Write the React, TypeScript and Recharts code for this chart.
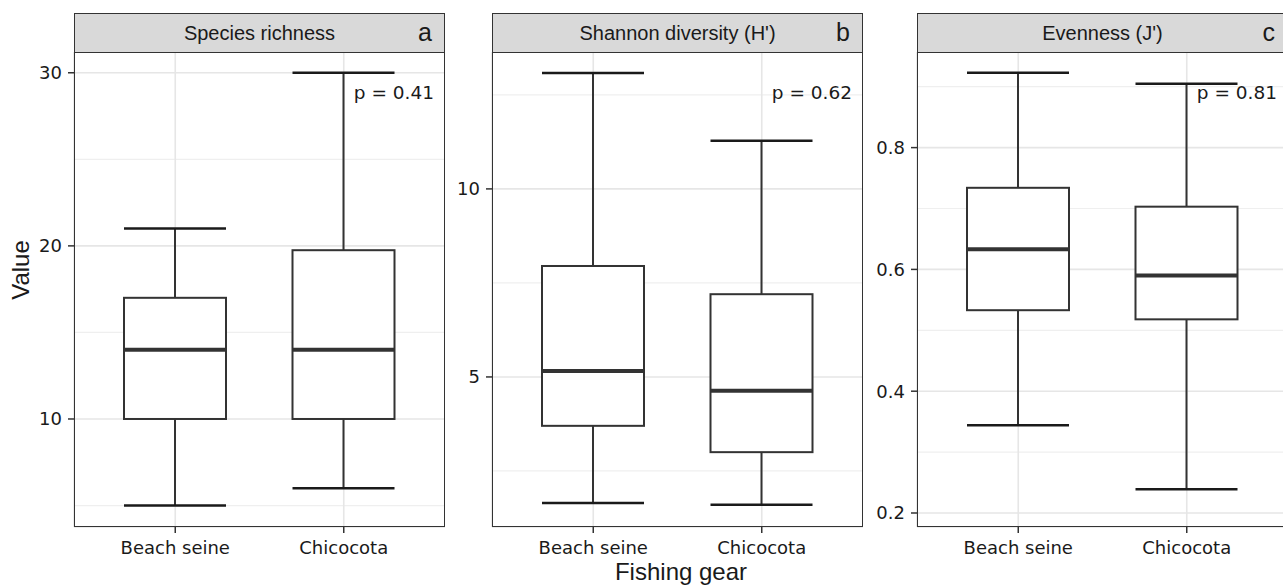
import React from "react";
import { ComposedChart, Bar, XAxis, YAxis, CartesianGrid } from "recharts";

// --- DATA ---
const GEAR = ["Beach seine", "Chicocota"];

const RICHNESS_MIN = [5, 6];
const RICHNESS_Q1 = [10, 10];
const RICHNESS_MEDIAN = [14, 14];
const RICHNESS_Q3 = [17, 19.75];
const RICHNESS_MAX = [21, 30];
const RICHNESS_TICKS = [10, 20, 30];
const RICHNESS_MINOR = [5, 15, 25];

const SHANNON_MIN = [1.65, 1.6];
const SHANNON_Q1 = [3.7, 3.0];
const SHANNON_MEDIAN = [5.16, 4.63];
const SHANNON_Q3 = [7.95, 7.2];
const SHANNON_MAX = [13.08, 11.28];
const SHANNON_TICKS = [5, 10];
const SHANNON_MINOR = [2.5, 7.5, 12.5];

const EVENNESS_MIN = [0.344, 0.239];
const EVENNESS_Q1 = [0.533, 0.518];
const EVENNESS_MEDIAN = [0.633, 0.59];
const EVENNESS_Q3 = [0.734, 0.703];
const EVENNESS_MAX = [0.923, 0.905];
const EVENNESS_TICKS = [0.2, 0.4, 0.6, 0.8];
const EVENNESS_MINOR = [0.3, 0.5, 0.7, 0.9];

const P_VALUES = ["p = 0.41", "p = 0.62", "p = 0.81"];

type Row = { gear: string; min: number; q1: number; median: number; q3: number; max: number };

function rows(min: number[], q1: number[], med: number[], q3: number[], max: number[]): Row[] {
    return GEAR.map((gear, i) => ({ gear, min: min[i], q1: q1[i], median: med[i], q3: q3[i], max: max[i] }));
}

// --- LAYOUT ---
const PLOT_W = 371;
const PLOT_H = 475;
const PLOT_TOP = 52;
const STRIP_TOP = 13;
const Y_AXIS_W = 54;
const X_AXIS_H = 50;
const INK = "#333333";
const TICK_FONT = { fontFamily: "DejaVu Sans", fontSize: 18, fill: "#1a1a1a" };

// box + whiskers drawn from the range bar [min, max] the library positions
function BoxShape(props: any) {
    const { x, y, width, height, payload } = props;
    const top = Math.min(y, y + height);
    const bottom = Math.max(y, y + height);
    const lo = payload.min;
    const hi = payload.max;
    const py = (v: number) => bottom - ((bottom - top) * (v - lo)) / (hi - lo);
    const cx = x + width / 2;
    const yq1 = py(payload.q1);
    const yq3 = py(payload.q3);
    const ymed = py(payload.median);
    return (
        <g>
            <line x1={cx} x2={cx} y1={top} y2={yq3} stroke={INK} strokeWidth={2} />
            <line x1={cx} x2={cx} y1={yq1} y2={bottom} stroke={INK} strokeWidth={2} />
            <line x1={x} x2={x + width} y1={top} y2={top} stroke="#1a1a1a" strokeWidth={2.5} />
            <line x1={x} x2={x + width} y1={bottom} y2={bottom} stroke="#1a1a1a" strokeWidth={2.5} />
            <rect x={x} y={yq3} width={width} height={yq1 - yq3} fill="#ffffff" stroke={INK} strokeWidth={2} />
            <line x1={x} x2={x + width} y1={ymed} y2={ymed} stroke={INK} strokeWidth={4} />
        </g>
    );
}

type PanelProps = {
    left: number; // left edge of plot area
    title: string;
    letter: string;
    data: Row[];
    domain: [number, number];
    ticks: number[];
    minor: number[];
    pValue: string;
};

function Panel({ left, title, letter, data, domain, ticks, minor, pValue }: PanelProps) {
    return (
        <>
            <div
                style={{
                    position: "absolute",
                    left,
                    top: STRIP_TOP,
                    width: PLOT_W,
                    height: PLOT_TOP - STRIP_TOP + 1,
                    boxSizing: "border-box",
                    background: "#d9d9d9",
                    border: `1.5px solid ${INK}`,
                    fontFamily: "Liberation Sans",
                    fontSize: 20,
                    color: "#1a1a1a",
                    display: "flex",
                    alignItems: "center",
                    justifyContent: "center",
                }}
            >
                {title}
                <span style={{ position: "absolute", right: 12, fontSize: 25, top: 4 }}>{letter}</span>
            </div>
            <div style={{ position: "absolute", left: left - Y_AXIS_W, top: PLOT_TOP }}>
                <ComposedChart
                    width={PLOT_W + Y_AXIS_W}
                    height={PLOT_H + X_AXIS_H}
                    data={data}
                    margin={{ top: 0, right: 0, bottom: 0, left: 0 }}
                >
                    {/* minor grid at the half-steps, major grid on the ticks */}
                    <CartesianGrid
                        horizontalValues={minor}
                        vertical={false}
                        stroke="#efefef"
                        strokeWidth={1.2}
                    />
                    <CartesianGrid stroke="#e6e6e6" strokeWidth={1.6} />
                    <XAxis
                        dataKey="gear"
                        padding={{ left: 17, right: 17 }}
                        height={X_AXIS_H}
                        tickSize={6}
                        tickMargin={8}
                        axisLine={false}
                        tickLine={{ stroke: INK, strokeWidth: 1.5 }}
                        tick={TICK_FONT}
                        interval={0}
                    />
                    <YAxis
                        type="number"
                        domain={domain}
                        ticks={ticks}
                        allowDataOverflow
                        width={Y_AXIS_W}
                        tickSize={6}
                        tickMargin={6}
                        axisLine={false}
                        tickLine={{ stroke: INK, strokeWidth: 1.5 }}
                        tick={TICK_FONT}
                    />
                    <Bar
                        dataKey={(d: Row) => [d.min, d.max]}
                        barSize={102}
                        shape={BoxShape}
                        isAnimationActive={false}
                    />
                </ComposedChart>
            </div>
            <div
                style={{
                    position: "absolute",
                    left,
                    top: PLOT_TOP,
                    width: PLOT_W,
                    height: PLOT_H,
                    boxSizing: "border-box",
                    border: `1.5px solid ${INK}`,
                    pointerEvents: "none",
                }}
            />
            <div
                style={{
                    position: "absolute",
                    left: left + PLOT_W - 11 - 120,
                    width: 120,
                    top: 83,
                    textAlign: "right",
                    fontFamily: "DejaVu Sans",
                    fontSize: 18.5,
                    color: "#1a1a1a",
                    lineHeight: "20px",
                }}
            >
                {pValue}
            </div>
        </>
    );
}

export default function App() {
    return (
        <div
            style={{
                position: "absolute",
                left: 0,
                top: 0,
                width: 1283,
                height: 585,
                overflow: "hidden",
                background: "#ffffff",
            }}
        >
            <Panel
                left={74}
                title="Species richness"
                letter="a"
                data={rows(RICHNESS_MIN, RICHNESS_Q1, RICHNESS_MEDIAN, RICHNESS_Q3, RICHNESS_MAX)}
                domain={[3.76, 31.2]}
                ticks={RICHNESS_TICKS}
                minor={RICHNESS_MINOR}
                pValue={P_VALUES[0]}
            />
            <Panel
                left={492}
                title="Shannon diversity (H')"
                letter="b"
                data={rows(SHANNON_MIN, SHANNON_Q1, SHANNON_MEDIAN, SHANNON_Q3, SHANNON_MAX)}
                domain={[1.01, 13.64]}
                ticks={SHANNON_TICKS}
                minor={SHANNON_MINOR}
                pValue={P_VALUES[1]}
            />
            <Panel
                left={917}
                title="Evenness (J')"
                letter="c"
                data={rows(EVENNESS_MIN, EVENNESS_Q1, EVENNESS_MEDIAN, EVENNESS_Q3, EVENNESS_MAX)}
                domain={[0.177, 0.957]}
                ticks={EVENNESS_TICKS}
                minor={EVENNESS_MINOR}
                pValue={P_VALUES[2]}
            />
            <div
                style={{
                    position: "absolute",
                    left: 21 - 60,
                    top: 270 - 15,
                    width: 120,
                    height: 30,
                    lineHeight: "30px",
                    textAlign: "center",
                    transform: "rotate(-90deg)",
                    fontFamily: "Liberation Sans",
                    fontSize: 24,
                    color: "#1a1a1a",
                }}
            >
                Value
            </div>
            <div
                style={{
                    position: "absolute",
                    left: 681 - 150,
                    top: 557,
                    width: 300,
                    lineHeight: "30px",
                    textAlign: "center",
                    fontFamily: "Liberation Sans",
                    fontSize: 24,
                    color: "#1a1a1a",
                }}
            >
                Fishing gear
            </div>
        </div>
    );
}
